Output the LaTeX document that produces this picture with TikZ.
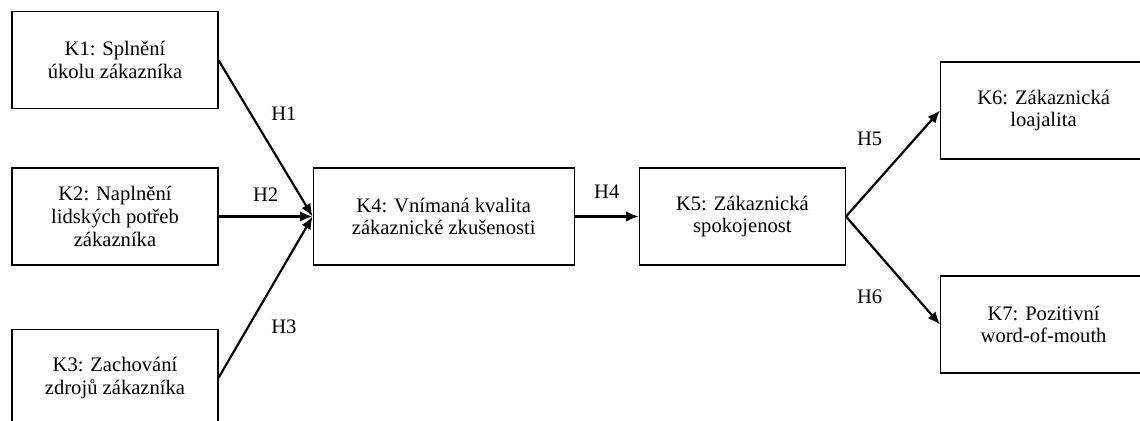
\documentclass[tikz,border=0pt]{standalone}
\usepackage{fontspec}
\setmainfont{Liberation Serif}
\usetikzlibrary{arrows.meta}
\usetikzlibrary{positioning}

\begin{document}
\begin{tikzpicture}[node distance=30pt,auto,>={Latex[length=6.3pt,width=5.2pt]},line width=1.1pt]
\tikzstyle{every node}=[font=\fontsize{10.3pt}{11.4pt}\selectfont]
\tikzstyle{kbox}=[draw,line width=0.6pt,align=center,minimum width=103pt,minimum height=48.5pt]
\tikzstyle{hup}=[yshift=5pt]
\tikzstyle{hdown}=[swap,yshift=-6pt]
\useasboundingbox (0,0) rectangle (570pt,-210.5pt);
\clip (0,0) rectangle (570pt,-210.5pt);
\path node[kbox] (k2) at (57.5pt,-108.25pt) {K2: Naplnění\\lidských potřeb\\zákazníka};
\path node[kbox, above=29pt of k2] (k1) {K1: Splnění\\úkolu zákazníka};
\path node[kbox, below=31.5pt of k2] (k3) {K3: Zachování\\zdrojů zákazníka};
\path node[kbox, minimum width=130.5pt, right=47pt of k2] (k4) {K4: Vnímaná kvalita\\zákaznické zkušenosti};
\path[->] (k1.east) edge node[hup,xshift=-1pt] {H1} (k4.west);
\path[->] (k2.east) edge node[yshift=3.5pt] {H2} (k4.west);
\path[->] (k3.east) edge node[hdown,yshift=-1.5pt,xshift=-1pt] {H3} (k4.west);

\path node[kbox, right=32pt of k4] (k5) {K5: Zákaznická\\spokojenost};
\path[->] (k4) edge node[hup] {H4} (k5);

%\path node[kbox, above right=53pt and 47pt of k5] (k6) {};
\path node[kbox, right=47pt of k5, yshift=53pt] (k6) {K6: Zákaznická\\loajalita};
\path node[kbox, right=47pt of k5, yshift=-54pt] (k7) {K7: Pozitivní\\word-of-mouth};
\path[->] (k5.east) edge node[hup,xshift=-1.5pt] {H5} (k6.west);
\path[->] (k5.east) edge node[hdown,xshift=-1.5pt] {H6} (k7.west);
\end{tikzpicture}
\end{document}
